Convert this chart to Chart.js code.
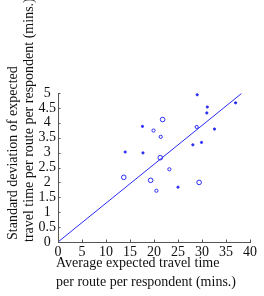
<!DOCTYPE html>
<html>
<head>
<meta charset="utf-8">
<script src="https://cdn.jsdelivr.net/npm/chart.js@4"></script>
<style>
html,body{margin:0;padding:0;background:#fff;}
canvas{display:block;}
</style>
</head>
<body>
<canvas id="c" width="264" height="296"></canvas>
<script>
// Average expected travel time per route per respondent (mins.)
const xValues = [29.0, 31.1, 31.0, 37.0, 21.8, 17.6, 19.9, 28.9, 32.6, 21.4, 28.1, 29.9, 14.0, 17.7, 21.3, 23.2, 13.7, 19.3, 20.5, 25.0, 29.4];
// Standard deviation of expected travel time per route per respondent (mins.)
const yValues = [4.94, 4.53, 4.33, 4.67, 4.11, 3.88, 3.74, 3.86, 3.79, 3.53, 3.26, 3.34, 3.02, 2.99, 2.83, 2.44, 2.17, 2.07, 1.72, 1.84, 2.00];
// marker class: 1 = dot, 2 = small circle, 3 = larger circle
const markerClass = [1, 1, 1, 1, 3, 1, 2, 2, 1, 2, 1, 1, 1, 1, 3, 2, 3, 3, 2, 1, 3];
// fitted line end points
const lineX = [0, 38.2];
const lineY = [0, 4.98];
const xTicks = [0, 5, 10, 15, 20, 25, 30, 35, 40];
const yTicks = [0, 0.5, 1, 1.5, 2, 2.5, 3, 3.5, 4, 4.5, 5];
const xTitle = ["Average expected travel time", "per route per respondent (mins.)"];
const yTitle = ["Standard deviation of expected", "travel time per route per respondent (mins.)"];

const BLUE = '#2a2af5';
const FONT = "'Liberation Serif', 'Times New Roman', serif";

const radiusFor = {1: 1.1, 2: 1.6, 3: 2.3};
const pts = xValues.map((x, i) => ({x: x, y: yValues[i]}));

const titlesAndTicks = {
  id: 'titlesAndTicks',
  afterDraw(chart) {
    const ctx = chart.ctx;
    const xs = chart.scales.x, ys = chart.scales.y;
    const a = chart.chartArea;
    ctx.save();
    ctx.strokeStyle = '#555';
    ctx.lineWidth = 1;
    ctx.beginPath();
    xTicks.forEach(v => {
      const p = Math.round(xs.getPixelForValue(v)) + 0.5;
      ctx.moveTo(p, a.bottom);
      ctx.lineTo(p, a.bottom - 2.5);
    });
    yTicks.forEach(v => {
      const p = Math.round(ys.getPixelForValue(v)) + 0.5;
      ctx.moveTo(a.left, p);
      ctx.lineTo(a.left + 2.5, p);
    });
    ctx.stroke();

    ctx.fillStyle = '#111';
    ctx.font = "14px " + FONT;
    ctx.textAlign = 'left';
    ctx.textBaseline = 'alphabetic';
    ctx.fillText(xTitle[0], 56, 267);
    ctx.fillText(xTitle[1], 56, 286);

    ctx.save();
    ctx.translate(17, 240);
    ctx.rotate(-Math.PI / 2);
    ctx.fillText(yTitle[0], 0, 0);
    ctx.restore();
    ctx.save();
    ctx.translate(33, 242);
    ctx.rotate(-Math.PI / 2);
    ctx.fillText(yTitle[1], 0, 0);
    ctx.restore();
    ctx.restore();
  }
};

new Chart(document.getElementById('c'), {
  type: 'scatter',
  data: {
    datasets: [
      {
        type: 'scatter',
        data: pts,
        pointStyle: 'circle',
        pointRadius: markerClass.map(c => radiusFor[c]),
        pointBorderWidth: 1,
        pointBorderColor: BLUE,
        pointBackgroundColor: markerClass.map(c => c === 1 ? BLUE : 'rgba(255,255,255,0)'),
        pointHoverRadius: 0
      },
      {
        type: 'line',
        data: lineX.map((x, i) => ({x: x, y: lineY[i]})),
        borderColor: BLUE,
        borderWidth: 1,
        pointRadius: 0,
        fill: false,
        tension: 0
      }
    ]
  },
  options: {
    responsive: false,
    animation: false,
    events: [],
    layout: {padding: {top: 93, right: 14, left: 0, bottom: 0}},
    plugins: {legend: {display: false}, tooltip: {enabled: false}},
    scales: {
      x: {
        type: 'linear', min: 0, max: 40,
        afterFit(s) { s.height = 54; },
        afterBuildTicks(s) { s.ticks = xTicks.map(v => ({value: v})); },
        ticks: {color: '#111', font: {family: FONT, size: 14}, padding: 2, maxRotation: 0, autoSkip: false,
                callback: v => String(v)},
        grid: {display: true, drawOnChartArea: false, drawTicks: false},
        border: {display: true, color: '#555', width: 1}
      },
      y: {
        type: 'linear', min: 0, max: 5,
        afterFit(s) { s.width = 58; },
        afterBuildTicks(s) { s.ticks = yTicks.map(v => ({value: v})); },
        ticks: {color: '#111', font: {family: FONT, size: 14}, padding: 2, crossAlign: 'center', autoSkip: false,
                callback: v => String(v)},
        grid: {display: true, drawOnChartArea: false, drawTicks: false},
        border: {display: true, color: '#555', width: 1}
      }
    }
  },
  plugins: [titlesAndTicks]
});
</script>
</body>
</html>
